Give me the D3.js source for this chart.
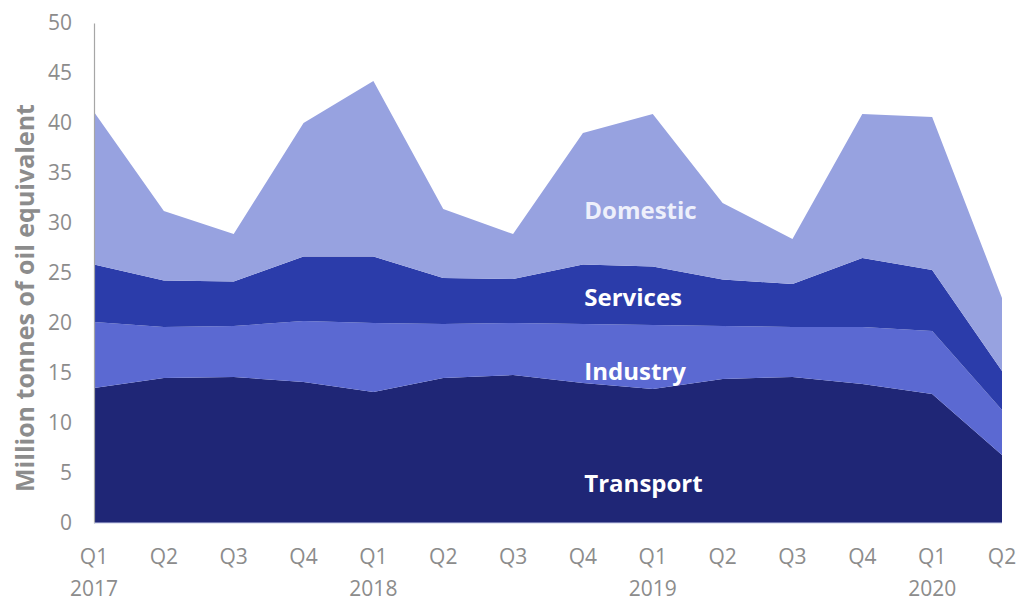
<!DOCTYPE html>
<html>
<head>
<meta charset="utf-8">
<script src="https://cdn.jsdelivr.net/npm/d3@7"></script>
<style>
  html, body { margin: 0; padding: 0; background: #ffffff; }
  svg { display: block; }
  text { font-family: "Open Sans", "Noto Sans", sans-serif; }
</style>
</head>
<body>
<svg id="chart" width="1021" height="602"></svg>
<script>
// Quarterly final energy consumption by sector (million tonnes of oil equivalent)
const quarters = ["Q1", "Q2", "Q3", "Q4", "Q1", "Q2", "Q3", "Q4", "Q1", "Q2", "Q3", "Q4", "Q1", "Q2"];
const years    = ["2017", "", "", "", "2018", "", "", "", "2019", "", "", "", "2020", ""];

const transport = [13.5, 14.5, 14.6, 14.1, 13.1, 14.5, 14.8, 14.0, 13.4, 14.4, 14.6, 13.9, 12.9, 6.8];
const industry  = [6.6, 5.1, 5.1, 6.1, 6.9, 5.4, 5.2, 5.9, 6.4, 5.3, 5.0, 5.7, 6.3, 4.5];
const services  = [5.75, 4.65, 4.45, 6.45, 6.65, 4.6, 4.4, 5.95, 5.85, 4.65, 4.3, 6.9, 6.1, 3.9];
const domestic  = [15.25, 6.95, 4.75, 13.35, 17.55, 6.9, 4.5, 13.15, 15.25, 7.65, 4.5, 14.4, 15.3, 7.3];

const seriesNames = ["Transport", "Industry", "Services", "Domestic"];
const seriesValues = [transport, industry, services, domestic];
const seriesColors = ["#1f2676", "#5b69d2", "#2b3caa", "#97a2e0"];

const yTicks = [0, 5, 10, 15, 20, 25, 30, 35, 40, 45, 50];

const svg = d3.select("#chart");
const margin = { left: 94, right: 19, top: 23, bottom: 79 };
const W = 1021, H = 602;

const rows = quarters.map((q, i) => {
  const r = { i };
  seriesNames.forEach((n, k) => { r[n] = seriesValues[k][i]; });
  return r;
});

const x = d3.scaleLinear().domain([0, quarters.length - 1]).range([margin.left, W - margin.right]);
const y = d3.scaleLinear().domain([0, 50]).range([H - margin.bottom, margin.top]);

const stacked = d3.stack().keys(seriesNames)(rows);

const area = d3.area()
  .x(d => x(d.data.i))
  .y0(d => y(d[0]))
  .y1(d => y(d[1]));

svg.append("g").selectAll("path")
  .data(stacked)
  .join("path")
  .attr("d", area)
  .attr("fill", (d, k) => seriesColors[k]);

// Y axis
const yAxis = d3.axisLeft(y).tickValues(yTicks).tickSize(0).tickPadding(22);
const gy = svg.append("g").attr("transform", `translate(${margin.left},0)`).call(yAxis);
gy.select(".domain").attr("stroke", "#a6a6a6").attr("stroke-width", 1.2);
gy.selectAll("text").attr("fill", "#8c8c8c").attr("font-size", 21);

// Baseline
svg.append("line")
  .attr("x1", margin.left).attr("x2", W - margin.right)
  .attr("y1", y(0)).attr("y2", y(0))
  .attr("stroke", "#c9cdea").attr("stroke-width", 1);

// X axis: quarter and year labels
const xLab = svg.append("g");
xLab.selectAll("text.q")
  .data(quarters)
  .join("text")
  .attr("class", "q")
  .attr("x", (d, i) => x(i))
  .attr("y", y(0) + 41)
  .attr("text-anchor", "middle")
  .attr("fill", "#8c8c8c")
  .attr("font-size", 21)
  .text(d => d);
xLab.selectAll("text.yr")
  .data(years)
  .join("text")
  .attr("class", "yr")
  .attr("x", (d, i) => x(i))
  .attr("y", y(0) + 73)
  .attr("text-anchor", "middle")
  .attr("fill", "#8c8c8c")
  .attr("font-size", 21)
  .text(d => d);

// Y axis title
svg.append("text")
  .attr("transform", `translate(34,${(margin.top + H - margin.bottom) / 2 + 25}) rotate(-90)`)
  .attr("text-anchor", "middle")
  .attr("fill", "#8c8c8c")
  .attr("font-size", 25)
  .attr("font-weight", "bold")
  .text("Million tonnes of oil equivalent");

// Series labels inside the areas
const labelX = x(7.02);
const labels = [
  { name: "Domestic", v: 30.4, color: "#eef0fb" },
  { name: "Services", v: 21.7, color: "#ffffff" },
  { name: "Industry", v: 14.3, color: "#ffffff" },
  { name: "Transport", v: 3.15, color: "#ffffff" }
];
svg.append("g").selectAll("text")
  .data(labels)
  .join("text")
  .attr("x", labelX)
  .attr("y", d => y(d.v))
  .attr("fill", d => d.color)
  .attr("font-size", 24)
  .attr("font-weight", "bold")
  .text(d => d.name);
</script>
</body>
</html>
